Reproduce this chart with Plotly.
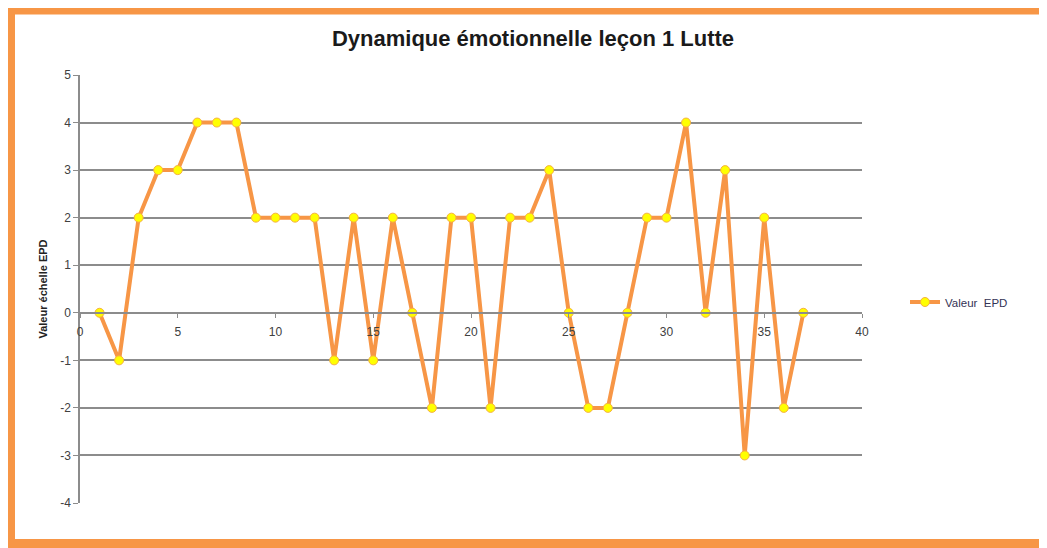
import plotly.graph_objects as go

lecons = list(range(1, 38))
valeurs = [0, -1, 2, 3, 3, 4, 4, 4, 2, 2, 2, 2, -1, 2, -1, 2, 0, -2, 2, 2, -2,
           2, 2, 3, 0, -2, -2, 0, 2, 2, 4, 0, 3, -3, 2, -2, 0]
serie_nom = "Valeur  EPD"
titre = "Dynamique émotionnelle leçon 1 Lutte"
titre_y = "Valeur échelle EPD"
y_ticks = [-4, -3, -2, -1, 0, 1, 2, 3, 4, 5]
y_tick_labels = ["-4", "-3", "-2", "-1", "0", "1", "2", "3", "4", "5"]

# page body has an 8px margin: work in screenshot coordinates minus 8
OFF = 8
W, H = 1047 - OFF, 548 - OFF
L, T = 80 - OFF, 75 - OFF
R = W - (862 - OFF)
B = H - (503 - OFF)
pw, ph = W - L - R, H - T - B

def px(x):
    return (x - OFF - L) / pw

def py(y):
    return (H - B - (y - OFF)) / ph

ORANGE = "#F79646"
GRID = "#8C8C8C"
FONT = "Liberation Sans Narrow, Arial Narrow, Liberation Sans, sans-serif"

fig = go.Figure()
fig.add_trace(go.Scatter(
    x=lecons, y=valeurs, mode="lines+markers", name=serie_nom,
    line=dict(color=ORANGE, width=4),
    marker=dict(color="#FFFF00", size=9, line=dict(color="#F5B041", width=1)),
))

border = dict(color=ORANGE, width=9)
x_left, x_right = px(10.5), px(1046)
y_top, y_bot = py(10), py(543.5)

fig.update_layout(
    width=W, height=H,
    margin=dict(l=L, r=R, t=T, b=B, autoexpand=False),
    paper_bgcolor="white", plot_bgcolor="white",
    title=dict(text="<b>" + titre + "</b>", x=(533 - OFF) / W, xref="container",
               xanchor="center", y=1 - (38 - OFF) / H, yref="container", yanchor="middle",
               font=dict(family=FONT, size=22, color="#1a1a1a")),
    showlegend=True,
    legend=dict(x=px(905), y=py(302), xanchor="left", yanchor="middle",
                font=dict(family=FONT, size=11.5, color="#333355"),
                bgcolor="rgba(0,0,0,0)", itemwidth=30),
    xaxis=dict(range=[0, 40], dtick=5, tick0=0, anchor="free", position=4 / 9,
               showline=True, linecolor=GRID, linewidth=1.5, showgrid=False,
               zeroline=False, ticks="outside", ticklen=4, tickcolor=GRID,
               tickfont=dict(family=FONT, size=12, color="#404040"),
               ticklabelstandoff=4, automargin=False),
    yaxis=dict(range=[-4, 5], tickvals=y_ticks, ticktext=y_tick_labels, domain=[0, 1],
               showline=True, linecolor=GRID, linewidth=1.5,
               showgrid=True, gridcolor=GRID, gridwidth=1.5, zeroline=False,
               ticks="outside", ticklen=5, tickcolor=GRID, automargin=False,
               tickfont=dict(family=FONT, size=12, color="#404040"),
               title=dict(text="<b>" + titre_y + "</b>", standoff=10,
                          font=dict(family=FONT, size=11, color="#222222"))),
    shapes=[
        dict(type="line", xref="paper", yref="paper", x0=x_left, x1=x_left,
             y0=y_bot - 0.01, y1=y_top + 0.01, line=border, layer="above"),
        dict(type="line", xref="paper", yref="paper", x0=x_left - 0.006, x1=x_right,
             y0=y_top, y1=y_top, line=border, layer="above"),
        dict(type="line", xref="paper", yref="paper", x0=x_left - 0.006, x1=x_right,
             y0=y_bot, y1=y_bot, line=border, layer="above"),
    ],
)

fig.write_html("out.html")
